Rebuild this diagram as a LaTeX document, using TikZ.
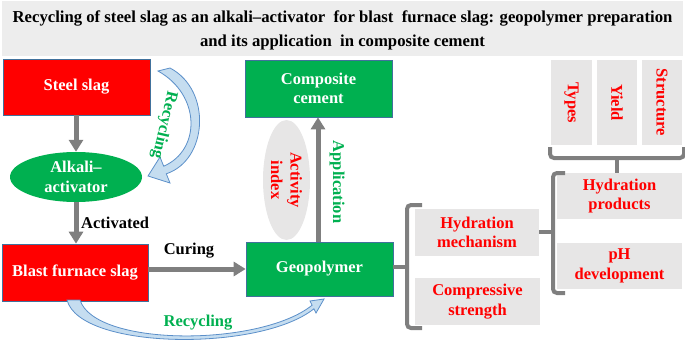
\documentclass[tikz,border=0pt]{standalone}
\usepackage{fontspec}
\setmainfont{Liberation Serif}[BoldFont={Liberation Serif Bold},ItalicFont={Liberation Serif Italic}]
\usetikzlibrary{arrows.meta,shapes.geometric}
\definecolor{myred}{HTML}{FF0000}
\definecolor{mygreen}{HTML}{00B050}
\definecolor{bordblue}{HTML}{41719C}
\definecolor{arrgray}{HTML}{7F7F7F}
\definecolor{boxgray}{HTML}{E7E6E6}
\definecolor{titlegray}{HTML}{EDEDED}
\definecolor{fatfill}{HTML}{C5DDF0}
\definecolor{fatdraw}{HTML}{5B8FC9}
\begin{document}
\begin{tikzpicture}[x=1pt,y=-1pt,
  font=\rmfamily\bfseries\fontsize{16.5}{19.5}\selectfont,
  redbox/.style={draw=bordblue,line width=0.7pt,fill=myred,text=white,align=center,inner sep=0pt},
  greenbox/.style={draw=bordblue,line width=0.7pt,fill=mygreen,text=white,align=center,inner sep=0pt},
  graybox/.style={fill=boxgray,text=myred,align=center,inner sep=0pt},
  garrow/.style={draw=arrgray,line width=5pt,-{Triangle[width=14pt,length=12pt]}},
  bracketline/.style={draw=arrgray,line width=4pt,rounded corners=4pt},
  fatarrow/.style={fill=fatfill,draw=fatdraw,line width=0.8pt},
  lbl/.style={text=black,inner sep=0pt}]
\useasboundingbox (0,0) rectangle (685,342);
% title
\node[fill=titlegray,minimum width=681pt,minimum height=55pt,inner sep=0pt,anchor=north west] (titlebg) at (2,1) {};
\node[align=center,inner sep=0pt,font=\rmfamily\bfseries\fontsize{16.7}{24}\selectfont] (title) at (342.5,30) {Recycling of steel slag as an alkali--activator\ \ for blast\ \ furnace slag: geopolymer preparation\\ and its application\ \ in composite cement};
% boxes
\node[redbox,minimum width=147pt,minimum height=56pt] (steel) at (76.5,87) {Steel slag};
\node[ellipse,fill=mygreen,text=white,align=center,inner sep=0pt,minimum width=132pt,minimum height=50pt] (alk) at (76,177) {Alkali--\\activator};
\node[redbox,minimum width=146pt,minimum height=57pt] (bfs) at (75,272.5) {Blast furnace slag};
\node[greenbox,minimum width=147pt,minimum height=54pt] (geo) at (319.5,269) {Geopolymer};
\node[greenbox,minimum width=147pt,minimum height=57pt] (comp) at (318.5,88.5) {Composite\\cement};
\node[ellipse,fill=boxgray,inner sep=0pt,minimum width=47pt,minimum height=120pt] (act) at (286.5,180) {};
\node[rotate=-90,text=myred,align=center,inner sep=0pt] (acttext) at (act) {Activity\\index};
% right boxes
\node[graybox,minimum width=124pt,minimum height=47pt] (hm) at (477,232.5) {Hydration\\mechanism};
\node[graybox,minimum width=125pt,minimum height=47pt] (cs) at (477.5,301.5) {Compressive\\strength};
\node[graybox,minimum width=125pt,minimum height=46pt] (hp) at (619.5,196) {Hydration\\products};
\node[graybox,minimum width=125pt,minimum height=46pt] (ph) at (619.5,266) {pH\\development};
\node[graybox,minimum width=85pt,minimum height=41pt,rotate=-90] (types) at (571.5,102.5) {Types};
\node[graybox,minimum width=85pt,minimum height=40pt,rotate=-90] (yield) at (617,102.5) {Yield};
\node[graybox,minimum width=85pt,minimum height=40pt,rotate=-90] (struct) at (662,102.5) {Structure};
% arrows
\draw[garrow] (steel.south -| alk) -- (alk.north);
\draw[garrow] (alk.south) -- (bfs.north -| alk);
\draw[garrow] (bfs.east |- geo.west) -- (geo.west);
\draw[garrow] (geo.north -| 318,0) -- (comp.south -| 318,0);
% labels
\node[lbl,anchor=west] (activated) at (81,223) {Activated};
\node[lbl] (curing) at (189,251) {Curing};
\node[rotate=-90,text=mygreen,inner sep=0pt] (appl) at (337,182) {Application};
% brackets
\coordinate (b1) at (407,267);
\draw[bracketline] (geo.east |- b1) -- (b1);
\draw[bracketline] (422,205) -- (407,205) -- (407,328) -- (422,328);
\coordinate (b2) at (553,232);
\draw[bracketline] (hm.east |- b2) -- (b2);
\draw[bracketline] (565,173) -- (553,173) -- (553,293) -- (565,293);
\coordinate (b3) at (617,158);
\draw[bracketline] (hp.north -| b3) -- (b3);
\draw[bracketline] (550,147) -- (550,158) -- (684,158) -- (684,147);
% fat arrows
\draw[fatarrow] (170,68) .. controls (212,90) and (208,160) .. (166.3,173.8)
  -- (170,183) -- (148,176) -- (160,157) -- (163.7,166.2)
  .. controls (201,150) and (201,95) .. (158,71) -- cycle;
\node[rotate=-103,text=mygreen,inner sep=0pt] (rec1) at (164,125) {Recycling};
\draw[fatarrow] (67,300) .. controls (80,350) and (260,352) .. (313.9,308.8)
  -- (316,313) -- (324,299) -- (310,301) -- (312.1,305.2)
  .. controls (260,347) and (95,347) .. (80,300) -- cycle;
\node[text=mygreen,inner sep=0pt] (rec2) at (198,323) {Recycling};
\end{tikzpicture}
\end{document}
